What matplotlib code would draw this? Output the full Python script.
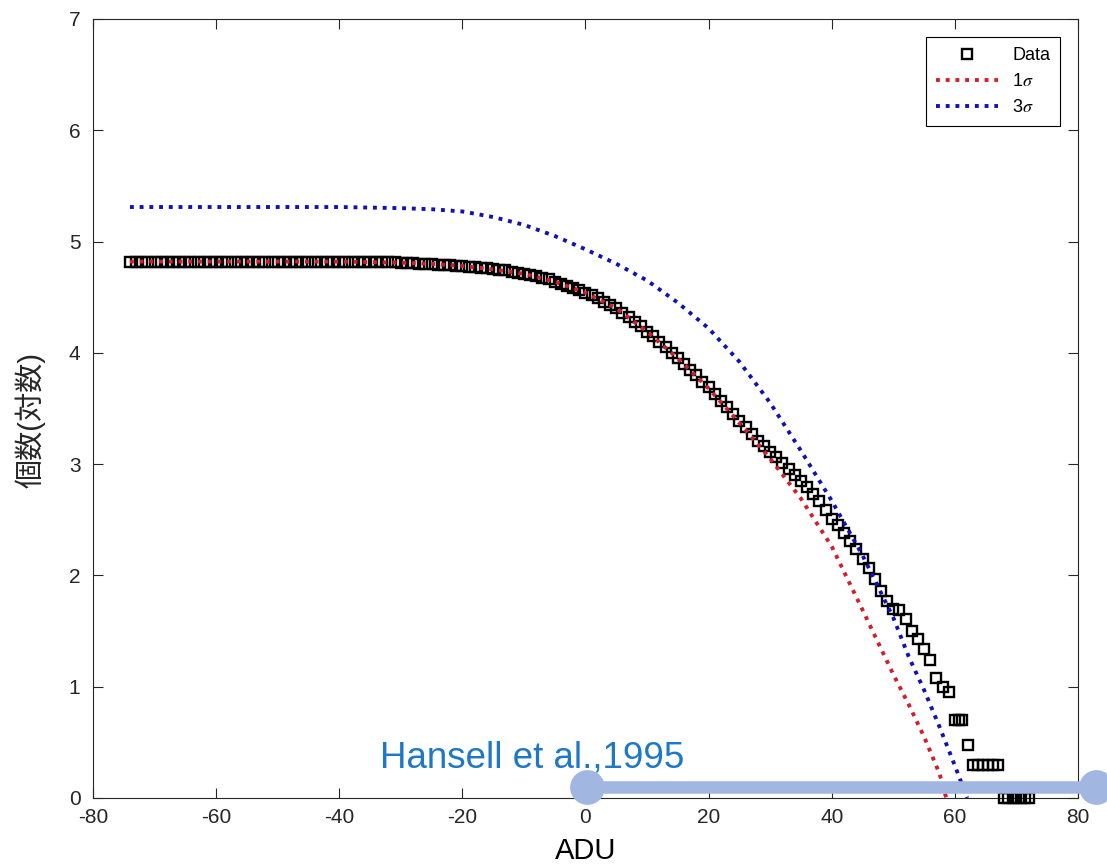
import matplotlib
matplotlib.use("Agg")
import matplotlib.pyplot as plt

plt.rcParams['font.family'] = ['Liberation Sans', 'Noto Sans CJK JP', 'DejaVu Sans']
plt.rcParams['mathtext.fontset'] = 'stix'
plt.rcParams['axes.unicode_minus'] = False

# ---------------- data ----------------
data_x = list(range(-74, 60)) + [60.0, 60.6, 61.2, 62.2, 63.0, 63.8, 64.6, 65.4, 66.2, 67.0,
                                 68.0, 68.7, 69.4, 70.0, 70.7, 71.4, 72.0]
data_y = [
    # -74 .. -31
    4.82, 4.82, 4.82, 4.82, 4.82, 4.82, 4.82, 4.82, 4.82, 4.82,
    4.82, 4.82, 4.82, 4.82, 4.82, 4.82, 4.82, 4.82, 4.82, 4.82,
    4.82, 4.82, 4.82, 4.82, 4.82, 4.82, 4.82, 4.82, 4.82, 4.82,
    4.82, 4.82, 4.82, 4.82, 4.82, 4.82, 4.82, 4.82, 4.82, 4.82,
    4.82, 4.82, 4.82, 4.82,
    # -30 .. -1
    4.81, 4.81, 4.81, 4.80, 4.80, 4.80, 4.79, 4.79, 4.79, 4.78,
    4.78, 4.77, 4.77, 4.76, 4.76, 4.75, 4.74, 4.74, 4.73, 4.72,
    4.71, 4.70, 4.69, 4.67, 4.66, 4.64, 4.62, 4.60, 4.58, 4.56,
    # 0 .. 29
    4.54, 4.52, 4.49, 4.46, 4.43, 4.40, 4.36, 4.32, 4.28, 4.24,
    4.19, 4.15, 4.10, 4.05, 4.00, 3.95, 3.90, 3.85, 3.80, 3.74,
    3.69, 3.63, 3.57, 3.51, 3.45, 3.39, 3.33, 3.27, 3.21, 3.16,
    # 30 .. 59
    3.11, 3.06, 3.01, 2.96, 2.90, 2.85, 2.79, 2.73, 2.67, 2.59,
    2.51, 2.45, 2.38, 2.31, 2.24, 2.15, 2.07, 1.97, 1.86, 1.77,
    1.70, 1.69, 1.61, 1.50, 1.43, 1.34, 1.24, 1.08, 1.00, 0.95,
    # tail
    0.70, 0.70, 0.70, 0.48, 0.30, 0.30, 0.30, 0.30, 0.30, 0.30,
    0.00, 0.00, 0.00, 0.00, 0.00, 0.00, 0.00,
]

sig1_x = [-74, -40, -30, -25, -20, -15, -10, -5, 0, 5, 10, 15, 20, 25, 30, 35, 40, 45,
          50, 52.5, 55, 57.5, 58.6]
sig1_y = [4.82, 4.82, 4.81, 4.80, 4.78, 4.75, 4.71, 4.64, 4.54, 4.40, 4.19, 3.95, 3.68,
          3.37, 3.05, 2.69, 2.26, 1.69, 1.11, 0.84, 0.55, 0.22, 0.00]

sig3_x = [-74, -40, -30, -25, -20, -15, -10, -5, 0, 5, 10, 15, 20, 25, 30, 35, 40, 45,
          50, 52.5, 55, 57.5, 60, 62]
sig3_y = [5.31, 5.31, 5.30, 5.29, 5.27, 5.22, 5.15, 5.05, 4.93, 4.80, 4.65, 4.45, 4.22,
          3.92, 3.55, 3.12, 2.67, 2.18, 1.62, 1.27, 0.97, 0.64, 0.29, 0.00]

x_ticks = [-80, -60, -40, -20, 0, 20, 40, 60, 80]
y_ticks = [0, 1, 2, 3, 4, 5, 6, 7]

legend_labels = ['Data', r'1$\sigma$', r'3$\sigma$']
x_label = 'ADU'
y_label = '個数(対数)'
note_text = 'Hansell et al.,1995'
note_span = [0.3, 83.0]
note_level = 0.1

# ---------------- figure ----------------
fig = plt.figure(figsize=(11.07, 8.65), dpi=100)
ax = fig.add_axes([0.084, 0.0775, 0.8898, 0.9006])

axcol = '#262626'
ax.plot(data_x, data_y, linestyle='none', marker='s', markersize=7.8,
        markerfacecolor='none', markeredgecolor='black', markeredgewidth=1.7,
        label=legend_labels[0], zorder=3, clip_on=False)
ax.plot(sig1_x, sig1_y, color='#d21f2b', linewidth=2.8, linestyle=(0, (1, 1.5)),
        dash_capstyle='butt', label=legend_labels[1], zorder=4)
ax.plot(sig3_x, sig3_y, color='#1212b4', linewidth=2.8, linestyle=(0, (1, 1.5)),
        dash_capstyle='butt', label=legend_labels[2], zorder=4)

ax.set_xlim(-80, 80)
ax.set_ylim(0, 7)
ax.set_xticks(x_ticks)
ax.set_yticks(y_ticks)
ax.tick_params(direction='in', length=7, width=0.8, top=True, right=True,
               labelsize=15, colors=axcol)
ax.tick_params(axis='x', pad=7)
ax.tick_params(axis='y', pad=9)
for s in ax.spines.values():
    s.set_color(axcol)
    s.set_linewidth(0.8)

ax.set_xlabel(x_label, fontsize=21, color='black')
ax.xaxis.set_label_coords(0.5, -0.05)
ax.set_ylabel(y_label, fontsize=21, color=axcol)
ax.yaxis.set_label_coords(-0.048, 0.485)

leg = ax.legend(loc='upper right', fontsize=13, frameon=True, fancybox=False,
                framealpha=1, edgecolor='black', borderaxespad=1.0,
                handlelength=3.4, handletextpad=0.8, labelspacing=0.5,
                borderpad=0.55)
leg.get_frame().set_linewidth(0.8)

# annotation band
ax.plot(note_span, [note_level, note_level], color='#a1b7e2', linewidth=9,
        solid_capstyle='butt', clip_on=False, zorder=5)
ax.plot(note_span, [note_level, note_level], linestyle='none', marker='o',
        markersize=24, color='#a1b7e2', clip_on=False, zorder=5)
ax.text(-33.4, 0.36, note_text, fontsize=26.5, color='#1e78c6', ha='left',
        va='center', zorder=6)

fig.savefig('out.png', dpi=100)
